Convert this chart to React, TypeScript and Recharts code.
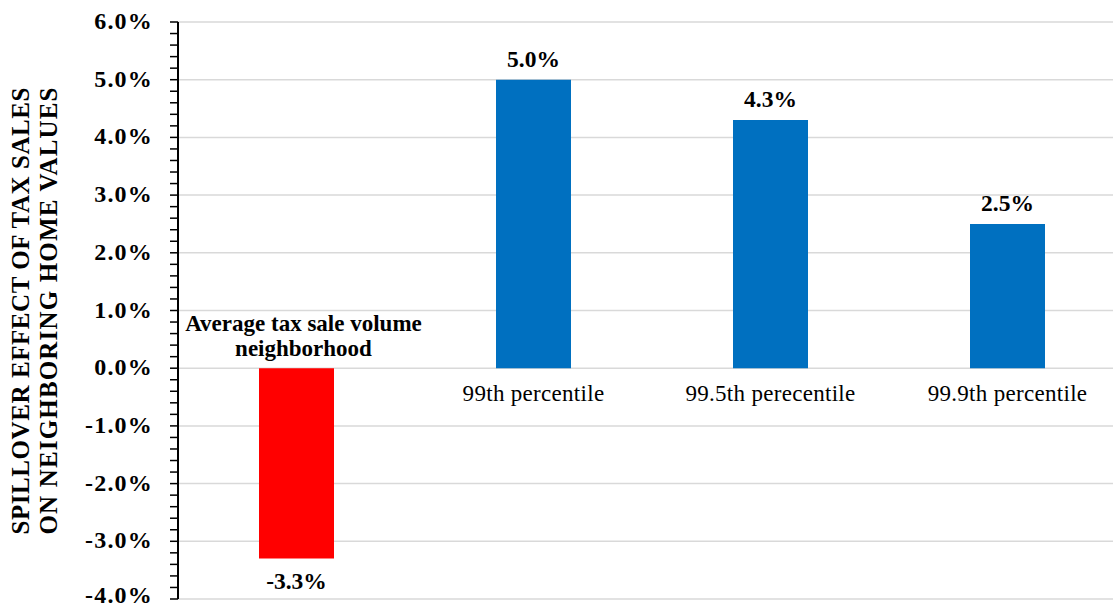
import React from 'react';
import { BarChart, Bar, XAxis, YAxis, CartesianGrid, Cell, LabelList } from 'recharts';

// category text, split into the lines drawn on the chart
const categoryLines = [
  ['Average tax sale volume', 'neighborhood'],
  ['99th percentile'],
  ['99.5th perecentile'],
  ['99.9th percentile'],
];
const effects = [-3.3, 5.0, 4.3, 2.5];
const barColors = ['#FF0000', '#0070C0', '#0070C0', '#0070C0'];
const majorTicks = [-4, -3, -2, -1, 0, 1, 2, 3, 4, 5, 6];
const minorTicks = Array.from({ length: 51 }, (_, i) => Math.round((-4 + i * 0.2) * 10) / 10);
const titleLines = ['SPILLOVER EFFECT OF TAX SALES', 'ON NEIGHBORING HOME VALUES'];

const data = categoryLines.map((lines, i) => ({ name: lines.join(' '), effect: effects[i] }));

const FONT = "'Liberation Serif', 'Times New Roman', serif";

const YTick = ({ x, y, payload }: any) => {
  if (!majorTicks.includes(payload.value)) return null;
  // bottom label sits right on the page edge, nudge it up a touch
  const dy = payload.value === majorTicks[0] ? 4 : 7;
  return (
    <text x={x + 1} y={y} dy={dy} textAnchor="end" fontFamily={FONT} fontWeight="bold" fontSize={24} letterSpacing={1.2} fill="#000">
      {payload.value.toFixed(1)}%
    </text>
  );
};

const ValueLabel = (props: any) => {
  const { x, y, width, height, value } = props;
  const top = Math.min(y, y + height);
  const bottom = Math.max(y, y + height);
  const ty = value >= 0 ? top - 13 : bottom + 30;
  return (
    <text x={x + width / 2} y={ty} textAnchor="middle" fontFamily={FONT} fontWeight="bold" fontSize={23.5} fill="#000">
      {value.toFixed(1)}%
    </text>
  );
};

const CategoryLabel = (props: any) => {
  const { x, y, width, height, value } = props;
  const index = props.index ?? effects.indexOf(value);
  const lines = categoryLines[index] || [];
  const top = Math.min(y, y + height);
  const bottom = Math.max(y, y + height);
  const cx = x + width / 2;
  const multi = lines.length > 1;
  if (value >= 0) {
    return (
      <text x={cx} y={bottom + 33} textAnchor="middle" fontFamily={FONT} fontSize={23} letterSpacing={0.3} fill="#000">
        {lines[0]}
      </text>
    );
  }
  return (
    <g>
      {lines.map((l, i) => (
        <text
          key={i}
          x={cx + 7}
          y={top - 12 - (lines.length - 1 - i) * 25}
          textAnchor="middle"
          fontFamily={FONT}
          fontWeight={multi ? 'bold' : 'normal'}
          fontSize={23}
          fill="#000"
        >
          {l}
        </text>
      ))}
    </g>
  );
};

export default function App() {
  return (
    <div style={{ position: 'absolute', left: 0, top: 0, width: 1113, height: 609, overflow: 'hidden', background: '#fff' }}>
      <BarChart width={1126} height={609} data={data} margin={{ top: 22, right: 0, bottom: 10, left: 0 }}>
        <CartesianGrid vertical={false} stroke="#d9d9d9" strokeWidth={1.5} horizontalValues={majorTicks} />
        <XAxis dataKey="name" hide />
        <YAxis
          width={178}
          domain={[-4, 6]}
          ticks={minorTicks}
          interval={0}
          allowDataOverflow
          axisLine={{ stroke: '#000', strokeWidth: 2 }}
          tickLine={{ stroke: '#000', strokeWidth: 1.5 }}
          tickSize={8}
          tickMargin={18}
          tick={<YTick />}
          label={{
            position: 'insideLeft',
            content: () => (
              <g>
                {titleLines.map((t, i) => (
                  <text
                    key={i}
                    x={0}
                    y={0}
                    transform={`translate(${29 + i * 28}, 311) rotate(-90)`}
                    textAnchor="middle"
                    fontFamily={FONT}
                    fontWeight="bold"
                    fontSize={25}
                    textLength={447}
                    lengthAdjust="spacing"
                    fill="#000"
                  >
                    {t}
                  </text>
                ))}
              </g>
            ),
          }}
        />
        <Bar dataKey="effect" barSize={75} isAnimationActive={false}>
          {data.map((d, i) => (
            <Cell key={d.name} fill={barColors[i]} />
          ))}
          <LabelList dataKey="effect" content={<ValueLabel />} />
          <LabelList dataKey="effect" content={<CategoryLabel />} />
        </Bar>
      </BarChart>
    </div>
  );
}
